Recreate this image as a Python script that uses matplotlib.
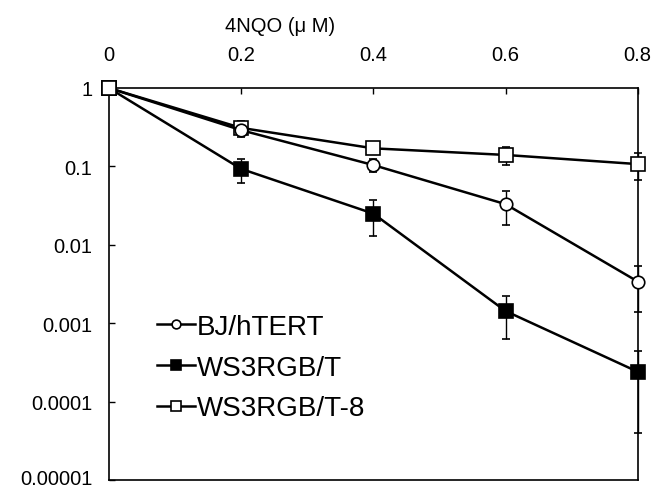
# 4NQO survival curves, log scale

import matplotlib
matplotlib.use('Agg')
import matplotlib.pyplot as plt
import matplotlib.transforms as mtransforms

plt.rcParams['font.family'] = ['Liberation Sans', 'DejaVu Sans']

# data
dose = [0, 0.2, 0.4, 0.6, 0.8]
bj = [1, 0.29, 0.104, 0.033, 0.0034]
bj_err = [0, 0.02, 0.02, 0.015, 0.002]
ws = [1, 0.093, 0.025, 0.00143, 0.00024]
ws_err = [0, 0.032, 0.012, 0.0008, 0.0002]
ws8 = [1, 0.31, 0.17, 0.14, 0.107]
ws8_err = [0, 0.07, 0.02, 0.035, 0.04]

x_ticks = [0, 0.2, 0.4, 0.6, 0.8]
x_labels = ['0', '0.2', '0.4', '0.6', '0.8']
y_ticks = [1, 0.1, 0.01, 0.001, 0.0001, 0.00001]
y_labels = ['1', '0.1', '0.01', '0.001', '0.0001', '0.00001']

fig = plt.figure(figsize=(6.72, 4.89), dpi=100)
ax = fig.add_axes([0.162, 0.0164, 0.787, 0.8016])

common = dict(color='black', lw=1.8, ecolor='black', elinewidth=1.0,
              capsize=3, capthick=1.0, clip_on=False)
e8 = ax.errorbar(dose, ws8, yerr=ws8_err, marker='s', ms=10, mfc='white',
                 mec='black', mew=1.2, zorder=3, **common)
e1 = ax.errorbar(dose, bj, yerr=bj_err, marker='o', ms=9, mfc='white',
                 mec='black', mew=1.2, zorder=4, **common)
e2 = ax.errorbar(dose, ws, yerr=ws_err, marker='s', ms=10, mfc='black',
                 mec='black', mew=1.2, zorder=4, **common)
# open square on top at the 0 dose point
ax.plot([0], [1], marker='s', ms=10, mfc='white', mec='black', mew=1.2,
        ls='none', zorder=6, clip_on=False)

ax.set_yscale('log')
ax.set_xlim(0, 0.8)
ax.set_ylim(0.00001, 1)
ax.set_yticks(y_ticks)
ax.set_yticklabels(y_labels)
ax.minorticks_off()
ax.xaxis.tick_top()
ax.set_xticks(x_ticks)
ax.set_xticklabels(x_labels)
ax.xaxis.set_label_position('top')
ax.set_xlabel('4NQO (μ M)', fontsize=14.5, labelpad=10)
ax.xaxis.set_label_coords(0.323, 1.0 + 57 / 392)

ax.tick_params(axis='x', direction='in', length=4, width=1, pad=17, labelsize=14.5)
ax.tick_params(axis='y', direction='in', length=4, width=1, pad=12, labelsize=14.5)
for s in ax.spines.values():
    s.set_linewidth(1.2)

# lowest label sits just above the bottom edge
fig.canvas.draw()
last = ax.get_yticklabels()[-1]
last.set_va('bottom')
last.set_transform(last.get_transform() +
                   mtransforms.ScaledTranslation(0, -8 / 100, fig.dpi_scale_trans))

ax.legend([e1.lines[0], e2.lines[0], e8.lines[0]],
          ['BJ/hTERT', 'WS3RGB/T', 'WS3RGB/T-8'],
          loc='lower left', bbox_to_anchor=(0.055, 0.1), frameon=False,
          fontsize=20, handlelength=1.35, handletextpad=0.08,
          labelspacing=0.53, markerscale=0.7, borderpad=0.2)

plt.savefig('out.png', dpi=100)
